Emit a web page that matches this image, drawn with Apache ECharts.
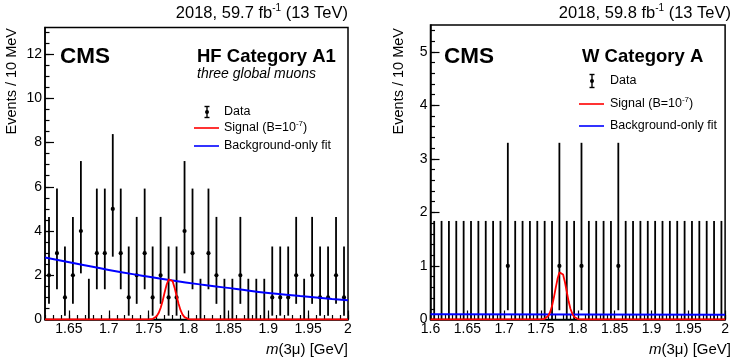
<!DOCTYPE html>
<html>
<head>
<meta charset="utf-8">
<script src="https://cdn.jsdelivr.net/npm/echarts@6/dist/echarts.min.js"></script>
<style>
html, body { margin: 0; padding: 0; background: #fff; }
#chart { width: 732px; height: 363px; }
</style>
</head>
<body>
<div id="chart"></div>
<script>
// HF category A1, 10 MeV bins (bin centres, GeV)
const hfBinCenters = [1.625, 1.635, 1.645, 1.655, 1.665, 1.675, 1.685, 1.695, 1.705, 1.715,
  1.725, 1.735, 1.745, 1.755, 1.765, 1.775, 1.785, 1.795, 1.805, 1.815,
  1.825, 1.835, 1.845, 1.855, 1.865, 1.875, 1.885, 1.895, 1.905, 1.915,
  1.925, 1.935, 1.945, 1.955, 1.965, 1.975, 1.985, 1.995]
const hfCounts = [2, 3, 1, 2, 4, 0, 3, 3, 5, 3,
  1, 2, 3, 1, 2, 1, 1, 4, 3, 0,
  3, 2, 0, 0, 2, 0, 0, 0, 1, 1,
  1, 2, 0, 2, 1, 1, 2, 1]
// W category A
const wBinCenters = [1.605, 1.615, 1.625, 1.635, 1.645, 1.655, 1.665, 1.675, 1.685, 1.695,
  1.705, 1.715, 1.725, 1.735, 1.745, 1.755, 1.765, 1.775, 1.785, 1.795,
  1.805, 1.815, 1.825, 1.835, 1.845, 1.855, 1.865, 1.875, 1.885, 1.895,
  1.905, 1.915, 1.925, 1.935, 1.945, 1.955, 1.965, 1.975, 1.985, 1.995]
const wCounts = [0, 0, 0, 0, 0, 0, 0, 0, 0, 0,
  1, 0, 0, 0, 0, 0, 0, 1, 0, 0,
  1, 0, 0, 0, 0, 1, 0, 0, 0, 0,
  0, 0, 0, 0, 0, 0, 0, 0, 0, 0]
// error bar ends per count (as drawn)
const poissonLow = [0, 0.173, 0.708, 1.367, 2.086, 2.840]
const poissonHigh = [1.841, 3.300, 4.638, 5.918, 7.163, 8.382]

// background-only fit curves
const hfBgX = [1.62, 1.66, 1.70, 1.74, 1.78, 1.82, 1.86, 1.90, 1.94, 1.98, 2.0]
const hfBgY = [2.80, 2.52, 2.24, 1.99, 1.76, 1.56, 1.38, 1.20, 1.06, 0.93, 0.87]
const wBgX = [1.6, 2.0]
const wBgY = [0.10, 0.09]

// signal shapes
const sigX = [1.75, 1.7525, 1.755, 1.7575, 1.76, 1.7625, 1.765, 1.7675, 1.77, 1.7725,
  1.775, 1.777, 1.78, 1.7825, 1.785, 1.7875, 1.79, 1.7925, 1.795, 1.7975,
  1.80, 1.8025, 1.805]
const hfSigY = [0.003, 0.009, 0.026, 0.064, 0.144, 0.29, 0.52, 0.84, 1.22, 1.57,
  1.81, 1.88, 1.74, 1.44, 1.07, 0.71, 0.42, 0.22, 0.105, 0.045,
  0.017, 0.006, 0]
const wSigY = [0.001, 0.004, 0.013, 0.031, 0.07, 0.14, 0.25, 0.41, 0.59, 0.76,
  0.88, 0.91, 0.84, 0.70, 0.52, 0.34, 0.20, 0.11, 0.05, 0.022,
  0.008, 0.003, 0]

// tick labels
const hfXTicks = [1.65, 1.7, 1.75, 1.8, 1.85, 1.9, 1.95, 2]
const wXTicks = [1.6, 1.65, 1.7, 1.75, 1.8, 1.85, 1.9, 1.95, 2]
const hfYTicks = [0, 2, 4, 6, 8, 10, 12]
const wYTicks = [0, 1, 2, 3, 4, 5]

const FONT = 'Liberation Sans, Arial, Helvetica, sans-serif'

function steps(from, to, step) {
  const out = []
  const n = Math.round((to - from) / step)
  for (let i = 0; i <= n; i++) out.push(+(from + i * step).toFixed(4))
  return out
}

function errorData(xs, counts) {
  return xs.map((x, i) => [x, counts[i], poissonLow[counts[i]], poissonHigh[counts[i]]])
}

function pairs(xs, ys) {
  return xs.map((x, i) => [x, ys[i]])
}

function renderErrorBar(params, api) {
  const x = api.value(0)
  const y = api.value(1)
  const top = api.coord([x, api.value(3)])
  const bottom = api.coord([x, api.value(2)])
  const mid = api.coord([x, y])
  const children = [{
    type: 'line',
    shape: { x1: top[0], y1: top[1], x2: bottom[0], y2: bottom[1] },
    style: { stroke: '#000', lineWidth: 1.8 }
  }]
  if (y > 0) {
    children.push({ type: 'circle', shape: { cx: mid[0], cy: mid[1], r: 2.1 }, style: { fill: '#000' } })
  }
  return { type: 'group', children }
}

function mainX(grid, min, max, ticks) {
  return {
    type: 'value', gridIndex: grid, min: min, max: max, position: 'bottom',
    axisLine: { show: true, onZero: false, lineStyle: { color: '#000', width: 1.5 } },
    axisTick: { show: true, inside: true, length: 9, customValues: ticks, lineStyle: { color: '#000', width: 1.2 } },
    axisLabel: { show: true, customValues: ticks, color: '#000', fontSize: 14, fontFamily: FONT, margin: 3 },
    splitLine: { show: false }
  }
}
function minorX(grid, min, max) {
  return {
    type: 'value', gridIndex: grid, min: min, max: max, position: 'bottom',
    axisLine: { show: false },
    axisTick: { show: true, inside: true, length: 4.5, customValues: steps(min, max, 0.01), lineStyle: { color: '#000', width: 1.2 } },
    axisLabel: { show: false },
    splitLine: { show: false }
  }
}
function mainY(grid, max, ticks) {
  return {
    type: 'value', gridIndex: grid, min: 0, max: max, position: 'left',
    axisLine: { show: true, onZero: false, lineStyle: { color: '#000', width: 1.5 } },
    axisTick: { show: true, inside: true, length: 9, customValues: ticks, lineStyle: { color: '#000', width: 1.2 } },
    axisLabel: { show: true, customValues: ticks, color: '#000', fontSize: 14, fontFamily: FONT, margin: 3 },
    splitLine: { show: false }
  }
}
function minorY(grid, max, step) {
  return {
    type: 'value', gridIndex: grid, min: 0, max: max, position: 'left',
    axisLine: { show: false },
    axisTick: { show: true, inside: true, length: 4.5, customValues: steps(0, Math.floor(max / step) * step, step), lineStyle: { color: '#000', width: 1.2 } },
    axisLabel: { show: false },
    splitLine: { show: false }
  }
}

function txt(x, y, text, opts) {
  return {
    type: 'text', x: x, y: y, rotation: opts.rotation || 0, z: 10,
    style: Object.assign({
      text: text, fill: '#000', fontFamily: FONT, fontSize: 14,
      align: 'left', verticalAlign: 'middle'
    }, opts.style || {})
  }
}
const supRich = (size) => ({
  a: { fontSize: size, fontFamily: FONT, color: '#000', lineHeight: size + 3 },
  s: { fontSize: Math.round(size * 0.62), fontFamily: FONT, color: '#000', verticalAlign: 'top', lineHeight: Math.round(size * 0.62) }
})
function legendLine(x1, x2, y, color) {
  return { type: 'line', z: 10, shape: { x1: x1, y1: y, x2: x2, y2: y }, style: { stroke: color, lineWidth: 1.6 } }
}
function legendData(x, y, h) {
  return {
    type: 'group', z: 10, children: [
      { type: 'line', shape: { x1: x, y1: y - h / 2, x2: x, y2: y + h / 2 }, style: { stroke: '#000', lineWidth: 1.4 } },
      { type: 'line', shape: { x1: x - 2.5, y1: y - h / 2, x2: x + 2.5, y2: y - h / 2 }, style: { stroke: '#000', lineWidth: 1.4 } },
      { type: 'line', shape: { x1: x - 2.5, y1: y + h / 2, x2: x + 2.5, y2: y + h / 2 }, style: { stroke: '#000', lineWidth: 1.4 } },
      { type: 'circle', shape: { cx: x, cy: y, r: 2 }, style: { fill: '#000' } }
    ]
  }
}

function panelTexts(o) {
  return [
    txt(o.titleRight, 13, '{a|' + o.lumi + ' fb}{s|-1}{a| (13 TeV)}', { style: { align: 'right', rich: supRich(16.5) } }),
    txt(o.yLabelX, 28, 'Events / 10 MeV', { rotation: Math.PI / 2, style: { align: 'right', fontSize: 14.5 } }),
    txt(o.xTitleRight, 350, '{i|m}{a|(3μ) [GeV]}', {
      style: {
        align: 'right',
        rich: {
          i: { fontSize: 15, fontFamily: FONT, fontStyle: 'italic', color: '#000' },
          a: { fontSize: 15, fontFamily: FONT, color: '#000' }
        }
      }
    }),
    txt(o.cmsX, 57, 'CMS', { style: { fontSize: 22.5, fontWeight: 'bold' } }),
    txt(o.catX, 57, o.category, { style: { fontSize: 18.5, fontWeight: 'bold' } })
  ]
}

const graphics = [].concat(
  panelTexts({ titleRight: 348, lumi: '2018, 59.7', yLabelX: 12, xTitleRight: 348, cmsX: 60, catX: 197, category: 'HF Category A1' }),
  [
    txt(197, 74, 'three global muons', { style: { fontSize: 14, fontStyle: 'italic' } }),
    legendData(207, 112, 11),
    txt(224, 112, 'Data', { style: { fontSize: 12.5 } }),
    legendLine(194, 219, 128, '#ff0000'),
    txt(224, 128, '{a|Signal (B=10}{s|-7}{a|)}', { style: { rich: supRich(12.5) } }),
    legendLine(194, 219, 146, '#0000ff'),
    txt(224, 146, 'Background-only fit', { style: { fontSize: 12.5 } })
  ],
  panelTexts({ titleRight: 731, lumi: '2018, 59.8', yLabelX: 399, xTitleRight: 731, cmsX: 444, catX: 582, category: 'W Category A' }),
  [
    legendData(592, 81, 13),
    txt(610, 81, 'Data', { style: { fontSize: 12.5 } }),
    legendLine(579, 604, 104, '#ff0000'),
    txt(610, 104, '{a|Signal (B=10}{s|-7}{a|)}', { style: { rich: supRich(12.5) } }),
    legendLine(579, 604, 126, '#0000ff'),
    txt(610, 126, 'Background-only fit', { style: { fontSize: 12.5 } })
  ]
)

const option = {
  animation: false,
  backgroundColor: '#fff',
  grid: [
    { left: 45, top: 27.5, width: 303, height: 292, show: true, borderColor: '#000', borderWidth: 1.5, backgroundColor: 'transparent' },
    { left: 430.5, top: 25, width: 302.5, height: 294.5, show: true, borderColor: '#000', borderWidth: 1.5, backgroundColor: 'transparent' }
  ],
  xAxis: [
    mainX(0, 1.62, 2.0, hfXTicks),
    minorX(0, 1.62, 2.0),
    mainX(1, 1.6, 2.0, wXTicks),
    minorX(1, 1.6, 2.0)
  ],
  yAxis: [
    mainY(0, 13.2, hfYTicks),
    minorY(0, 13.2, 0.5),
    mainY(1, 5.5, wYTicks),
    minorY(1, 5.5, 0.2)
  ],
  graphic: graphics,
  series: [
    {
      name: 'Data', type: 'custom', xAxisIndex: 0, yAxisIndex: 0,
      renderItem: renderErrorBar, encode: { x: 0, y: [1, 2, 3] },
      data: errorData(hfBinCenters, hfCounts), z: 2
    },
    {
      name: 'Background-only fit', type: 'line', xAxisIndex: 0, yAxisIndex: 0,
      data: pairs(hfBgX, hfBgY), smooth: true, symbol: 'none',
      lineStyle: { color: '#0000ff', width: 2 }, z: 3
    },
    {
      name: 'Signal', type: 'line', xAxisIndex: 0, yAxisIndex: 0,
      data: [[1.62, 0]].concat(pairs(sigX, hfSigY), [[2.0, 0]]), symbol: 'none',
      lineStyle: { color: '#ff0000', width: 1.8 }, z: 4
    },
    {
      name: 'Data', type: 'custom', xAxisIndex: 2, yAxisIndex: 2,
      renderItem: renderErrorBar, encode: { x: 0, y: [1, 2, 3] },
      data: errorData(wBinCenters, wCounts), z: 2
    },
    {
      name: 'Background-only fit', type: 'line', xAxisIndex: 2, yAxisIndex: 2,
      data: pairs(wBgX, wBgY), symbol: 'none',
      lineStyle: { color: '#0000ff', width: 2 }, z: 3
    },
    {
      name: 'Signal', type: 'line', xAxisIndex: 2, yAxisIndex: 2,
      data: [[1.6, 0]].concat(pairs(sigX, wSigY), [[2.0, 0]]), symbol: 'none',
      lineStyle: { color: '#ff0000', width: 1.8 }, z: 4
    }
  ]
}

const myChart = echarts.init(document.getElementById('chart'))
myChart.setOption(option)
</script>
</body>
</html>
